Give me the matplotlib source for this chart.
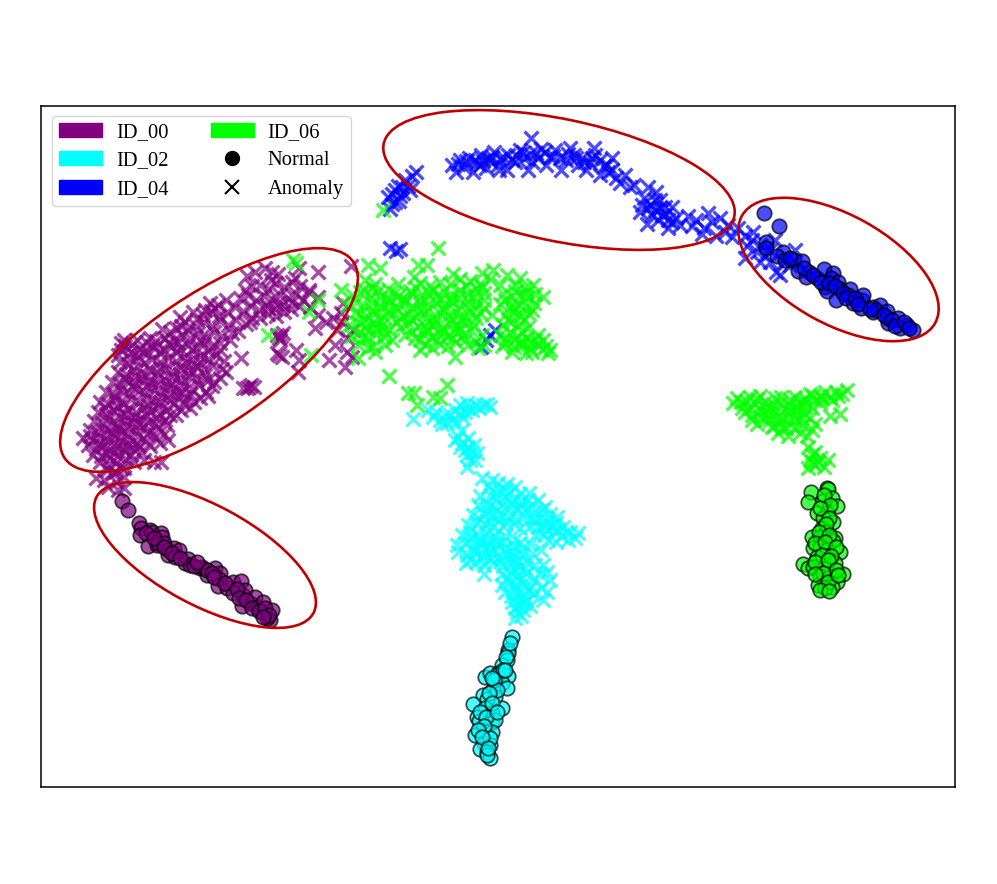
import matplotlib
matplotlib.use("Agg")
import matplotlib.pyplot as plt
from matplotlib.patches import Ellipse, Patch
from matplotlib.lines import Line2D

plt.rcParams['font.family'] = ['Liberation Serif', 'DejaVu Serif']

id00_anomaly = [
(118,490),(108,487),(124,488),(116,482),(96,478),(104,480),(124,477),(113,473),(107,470),(115,472),(121,468),
(100,462),(108,465),(116,463),(124,468),(93,455),(101,456),(110,458),(118,456),(126,459),(134,462),(144,460),(154,462),(161,462),
(88,445),(96,449),(103,446),(110,450),(117,447),(125,451),(133,448),(141,452),(150,446),(160,443),(168,440),
(83,438),(92,440),(100,437),(108,441),(115,438),(122,442),(130,439),(138,436),(146,441),(155,437),(164,434),
(90,430),(97,432),(105,428),(112,433),(120,429),(127,434),(135,430),(143,427),(151,431),(159,428),(167,425),
(94,421),(102,423),(109,419),(117,424),(124,420),(132,423),(140,419),(148,422),(156,418),(165,420),(170,415),
(98,412),(106,414),(113,410),(121,413),(128,409),(136,412),(143,408),(151,411),(158,407),(166,410),(174,404),(181,410),(190,408),(176,415),
(100,402),(108,404),(116,400),(124,403),(131,399),(139,402),(147,398),(155,401),(162,397),(170,400),(178,396),(186,399),(194,402),(200,398),(208,396),
(106,392),(114,394),(121,390),(129,393),(136,389),(144,392),(152,388),(160,391),(168,387),(176,390),(184,386),(192,389),(199,385),(212,386),(206,392),
(112,382),(120,384),(127,380),(135,383),(142,379),(150,382),(158,378),(166,381),(173,377),(181,380),(189,376),(197,379),(205,375),(214,382),(220,378),
(118,372),(126,374),(133,370),(141,373),(149,369),(157,372),(165,368),(172,371),(180,367),(188,370),(196,366),(204,369),(212,365),(222,369),(226,372),
(120,362),(128,364),(136,360),(144,363),(152,359),(160,362),(168,358),(176,361),(184,357),(192,360),(200,356),(208,359),(216,355),(224,361),
(121,350),(125,346),(131,352),(140,349),(148,352),(156,347),(164,350),(172,346),(180,349),(188,345),(196,348),(204,344),(212,347),(220,350),(241,358),
(121,343),(165,338),(174,340),(182,335),(190,338),(198,333),(206,337),(214,332),(222,336),(230,340),(220,343),
(162,329),(181,326),(188,330),(196,326),(204,322),(212,326),(220,321),(228,325),(236,320),(246,324),(238,331),(252,318),(232,333),
(180,317),(193,312),(203,315),(211,311),(219,316),(227,312),(235,307),(243,311),(251,306),(259,310),(267,305),(275,309),(283,305),(291,309),(299,306),(250,322),(260,318),(268,314),(276,316),(284,312),(292,302),
(210,303),(218,305),(226,300),(240,298),(248,295),(256,300),(264,296),(272,299),(280,295),(288,298),(296,294),(303,300),(268,308),(278,303),
(245,290),(252,286),(260,285),(268,289),(276,283),(284,287),(292,282),(300,286),(309,292),(318,297),(310,307),
(247,276),(255,272),(265,268),(272,272),(278,274),(271,280),(295,278),(299,268),(318,272),(351,266),(309,290),
(281,336),(279,338),(277,335),(283,333),(280,340),(279,355),(277,353),(282,357),(296,350),(298,372),(299,360),
(249,387),(251,385),(247,388),(254,387),(243,388),(326,322),(333,318),(341,313),(337,330),(347,338),(335,345),(329,360),(347,352),(352,357),(345,367),(342,322),(353,330),(343,303),(315,328),(318,315),
(118,355),(124,340),(132,345),(130,358),(138,356),(146,342),(150,338),(156,341),(160,353),(170,332),(176,328),(185,322),(197,319),(205,310),(215,308),(137,340),(143,352),(152,346),(168,343),(176,352),(192,350),(200,340),(208,351),(186,362),(178,343),
(105,408),(118,407),(125,414),(134,417),(145,414),(155,424),(160,414),(112,425),(127,426),(139,424),(99,444),(107,435),(121,436),(128,445),(136,443),(147,434),(106,453),(114,452),(122,448),(131,455),(139,446),(115,397),(132,386),(146,386),(158,384),(170,394),(182,392),(190,394),(172,384),(180,374),(193,372),(200,362),(160,368),(147,376),(135,376),(124,378),(208,380),(184,404),(160,402),(148,405),(118,428),(90,436),
]

id02_anomaly = [
(413,419),(428,410),(433,417),(440,420),(447,423),(450,415),(455,410),(460,405),(467,403),(472,410),(475,405),(483,405),(490,407),(487,404),(465,412),(445,415),(452,420),(460,413),(468,408),
(458,437),(462,443),(468,447),(472,452),(477,453),(467,455),(470,460),(467,467),(455,440),(465,450),(474,445),
(482,478),(492,480),(498,483),(507,484),(515,487),(488,487),(500,490),(510,492),(520,494),(529,493),(480,496),(490,495),(496,499),(505,497),(513,500),(522,501),(531,505),(538,500),(545,507),
(478,505),(486,504),(494,507),(502,505),(510,508),(518,510),(526,509),(534,512),(542,510),(550,514),(557,517),
(473,515),(483,513),(491,516),(499,514),(508,517),(516,519),(524,516),(532,519),(540,518),(548,521),(556,523),(563,527),(570,532),(578,533),
(468,525),(476,522),(485,524),(493,527),(503,526),(520,528),(530,526),(538,527),(546,529),(554,531),(561,536),(568,540),(575,538),
(462,535),(470,532),(478,535),(486,533),(494,536),(505,536),(515,539),(535,535),(548,540),(556,542),
(457,545),(465,543),(473,545),(481,543),(489,546),(497,544),(505,548),(513,546),(521,549),(530,544),(541,550),
(458,552),(467,555),(475,552),(483,556),(491,553),(499,557),(507,554),(515,558),(523,555),(532,553),
(466,563),(476,562),(484,565),(494,562),(503,566),(511,563),(519,567),(527,562),(535,565),(543,565),(547,572),
(484,574),(502,574),(510,572),(518,576),(526,573),(534,578),(540,574),(550,580),
(502,585),(509,582),(516,585),(523,583),(531,586),(541,588),(547,592),
(505,592),(511,596),(518,593),(525,596),(533,594),(543,600),
(512,602),(518,605),(524,603),(530,606),(517,612),(523,610),(515,618),(521,616),
(496,493),(505,490),(512,504),(520,505),(528,500),(497,510),(487,509),(480,520),(490,522),(498,520),(506,523),(514,524),(471,538),(480,540),(488,540),(497,540),(474,550),(484,549),(494,549),(503,542),(512,552),(520,543),(470,560),(480,558),(490,559),(500,561),(509,558),(517,562),(525,568),(515,570),(507,578),(520,580),(528,590),(514,590),(520,600),(526,600),(515,608),(535,521),(544,526),(552,526),(544,535),(558,530),(566,532),
(436,412),(442,424),(456,422),(463,418),(479,408),(461,431),(468,438),(460,447),(475,460),
]

id04_anomaly = [
(390,209),(395,202),(388,197),(400,196),(395,190),(403,193),(408,186),(412,176),(416,172),(405,180),(398,186),(392,194),(399,201),(410,190),
(452,165),(456,172),(460,160),(464,167),(469,158),(473,172),(477,163),(481,155),(486,168),(490,160),(494,152),(498,165),(503,157),(507,170),(512,160),(516,155),(520,150),(524,158),(528,170),(532,162),(531,138),(536,153),(541,149),(546,165),(550,157),(555,150),(561,170),(566,160),(570,148),(574,155),(578,165),(582,158),(586,170),(590,163),(595,155),(600,175),(604,166),(608,172),(612,170),(594,148),(616,178),(620,183),(625,175),(612,158),(634,185),(630,187),
(648,187),(644,198),(650,205),(656,192),(660,200),(665,207),(652,215),(640,212),(647,224),(658,220),(666,214),(672,207),(676,218),(680,225),(668,228),(655,210),(662,215),
(688,216),(696,220),(704,228),(712,222),(720,218),(725,232),(716,236),(708,213),(702,234),(692,226),(732,237),(728,225),(738,228),
(745,236),(753,232),(760,245),(770,250),(747,246),(757,252),(765,255),(775,240),(770,262),(780,275),(745,258),(790,265),(776,272),(784,262),(795,250),(760,262),(752,240),
(481,347),(490,335),(495,330),(486,340),(390,248),(400,249),(396,251),
(458,164),(466,161),(475,160),(483,161),(492,157),(500,159),(508,155),(515,162),(523,152),(530,154),(538,158),(545,152),(553,156),(560,158),(568,154),(576,158),(584,162),(592,158),(600,160),(607,165),(480,165),(488,158),(499,170),(392,204),(402,187),(648,208),(655,200),(660,208),(668,220),(642,205),(672,222),
]

id06_anomaly = [
(293,260),(296,263),(268,335),(311,355),(309,312),(318,300),(341,290),(383,210),
(438,248),(368,265),(380,268),(418,265),(427,265),(414,277),(453,274),(493,270),(482,273),(520,278),(507,275),(455,357),(358,358),(375,352),(389,376),(447,385),(408,393),(414,393),(433,397),(440,398),(417,405),(548,353),(543,297),(543,340),(532,352),
(365,280),(375,284),(388,289),(398,284),(410,291),(420,283),(430,286),(440,282),(450,284),(460,279),(470,281),(480,284),(490,279),(500,285),(515,285),(525,288),(533,285),
(352,295),(360,292),(370,296),(378,291),(386,298),(394,293),(402,299),(412,294),(420,298),(428,293),(436,296),(444,291),(452,295),(460,290),(468,294),(476,289),(484,293),(503,294),(512,297),(520,295),(528,297),(535,294),
(347,305),(356,302),(364,306),(372,303),(380,307),(388,304),(396,308),(404,304),(412,308),(420,304),(428,308),(436,303),(444,306),(452,302),(460,306),(468,301),(476,304),(484,300),(500,304),(510,307),(518,304),(526,306),(534,303),
(360,314),(368,317),(376,313),(384,317),(392,314),(400,318),(408,313),(416,317),(424,314),(432,318),(440,313),(448,316),(456,312),(464,316),(472,312),(480,313),(505,315),(513,312),(521,316),(529,314),
(349,325),(357,322),(365,327),(373,323),(381,326),(389,330),(400,327),(408,323),(418,326),(426,329),(434,325),(442,328),(450,323),(458,326),(466,322),(474,325),(503,325),(511,322),(519,325),(527,328),
(352,336),(360,332),(368,338),(376,334),(384,337),(405,335),(415,338),(423,334),(431,337),(439,333),(447,336),(455,332),(463,335),(471,330),(482,335),(500,335),(510,332),(518,336),(527,338),(535,340),
(358,345),(373,346),(385,345),(392,340),(425,345),(432,348),(440,344),(448,346),(456,342),(465,340),(478,348),(505,343),(514,347),(522,345),(530,348),(538,344),(546,346),(550,350),(492,315),(484,345),
(733,403),(737,398),(742,408),(746,401),(750,397),(755,404),(760,396),(765,402),(770,408),(775,398),(780,403),(785,410),(790,400),(795,397),(800,403),(805,398),(810,394),(815,400),(820,396),(825,392),(830,397),(836,392),(842,394),(847,390),(832,400),(820,403),
(745,412),(752,415),(760,410),(768,414),(775,412),(782,418),(790,411),(797,409),(805,407),(812,408),(830,416),(840,414),
(757,424),(765,420),(772,427),(780,423),(786,428),(795,420),(802,425),(810,418),(815,424),(778,433),(788,436),(800,433),(807,436),(812,430),
(808,447),(812,455),(810,460),(815,452),(820,458),(808,468),(815,465),(828,460),(824,467),
(364,290),(372,288),(380,298),(390,300),(398,296),(406,300),(416,288),(425,300),(433,290),(441,299),(450,300),(458,298),(466,286),(474,297),(482,287),(505,300),(515,291),(527,292),(356,312),(364,320),(372,310),(380,320),(388,311),(396,322),(404,316),(412,320),(420,310),(428,322),(436,320),(444,310),(452,319),(460,320),(468,308),(476,318),(484,308),(508,320),(516,308),(524,320),(532,310),(368,330),(376,328),(384,330),(412,332),(420,340),(428,330),(436,340),(444,332),(452,338),(460,330),(468,345),(476,342),(506,338),(514,340),(522,332),(530,342),(538,335),(542,350),(526,353),(520,342),(512,352),(502,346),(420,350),(362,338),(368,348),
(741,402),(749,408),(757,399),(765,408),(773,404),(781,397),(789,405),(797,404),(805,402),(813,396),(822,398),(838,396),(752,420),(760,416),(770,420),(778,416),(788,418),(796,415),(804,414),(774,426),(782,428),(794,428),(802,418),(812,462),(818,462),
]

id00_normal = [(122,501),(128,510),(139,523),(141,528),(140,535),(150,530),(152,532),(161,533),(162,537),(148,546),(157,545),(158,543),(164,543),(168,550),(168,555),(174,548),(179,550),(175,557),(185,563),(188,559),(190,565),(200,568),(202,567),(215,568),(207,575),(207,570),(220,573),(219,579),(218,586),(227,588),(233,582),(241,581),(233,593),(243,595),(245,590),(242,606),(250,603),(255,597),(257,607),(263,602),(262,612),(272,610),(270,620),(267,618),
(146,533),(154,538),(164,547),(172,553),(180,558),(194,566),(197,562),(212,573),(214,577),(225,583),(237,589),(239,598),(246,600),(252,608),(259,611),(265,608),(269,615),(263,617)]
id02_normal = [(512,637),(508,650),(508,653),(507,660),(502,665),(485,677),(490,673),(498,673),(501,674),(508,676),(497,675),(502,683),(507,688),(493,689),(483,695),(495,697),(487,699),(473,704),(502,708),(485,708),(492,713),(477,717),(479,721),(492,722),(495,720),(475,735),(486,732),(492,732),(484,743),(480,749),(490,745),(487,752),(490,758),(487,755),
(510,643),(506,657),(503,670),(494,680),(497,690),(489,693),(492,703),(480,712),(486,717),(497,712),(484,726),(478,730),(490,738),(482,737),(488,748),(492,678),(505,670)]
id04_normal = [(764,213),(779,226),(766,242),(766,248),(783,252),(777,256),(785,260),(794,260),(802,261),(798,271),(809,272),(806,277),(817,278),(824,269),(833,273),(831,278),(838,282),(825,287),(827,291),(840,289),(850,289),(848,295),(836,300),(853,303),(862,300),(863,295),(861,308),(873,312),(873,307),(880,305),(876,310),(887,311),(887,318),(888,323),(898,318),(900,328),(907,325),(913,330),
(790,258),(804,268),(813,275),(821,282),(829,283),(835,286),(843,293),(846,298),(855,298),(858,304),(870,309),(884,315),(892,320),(895,326),(904,322),(909,328)]
id06_normal = [(827,488),(828,489),(811,492),(808,502),(823,501),(832,498),(837,506),(817,513),(827,513),(823,518),(833,522),(822,528),(826,532),(812,537),(820,537),(835,538),(833,541),(813,548),(820,547),(827,550),(840,552),(817,557),(835,563),(803,564),(808,568),(813,567),(826,565),(824,568),(843,574),(820,576),(830,577),(837,582),(818,585),(832,587),(825,588),
(824,495),(830,505),(820,508),(829,518),(826,524),(819,532),(829,535),(815,543),(825,542),(836,547),(822,555),(831,556),(815,562),(828,560),(836,570),(823,573),(815,574),(828,582),(820,590),(829,591),(838,575)]

series_names = ['ID_00', 'ID_02', 'ID_04', 'ID_06']
series_colors = ['#800080', '#00ffff', '#0000ff', '#00ff00']
anomalies = [id00_anomaly, id02_anomaly, id04_anomaly, id06_anomaly]
normals = [id00_normal, id02_normal, id04_normal, id06_normal]
# centre x, centre y, full length, full height, angle
ellipses = [(209,360,349,130,-34.2),(559,180,358,122,11.7),(838.5,269.5,221,109,29),(205,555,246,100,28.2)]

fig = plt.figure(figsize=(9.97, 8.84), dpi=100)
ax = fig.add_axes([41/997, 1-787/884, 914/997, 681/884])
ax.set_xlim(41, 955)
ax.set_ylim(787, 106)
ax.set_xticks([]); ax.set_yticks([])
for s in ax.spines.values():
    s.set_linewidth(1.1)

for pts, c in zip(anomalies, series_colors):
    ax.scatter([p[0] for p in pts], [p[1] for p in pts], marker='x', s=100, c=c, alpha=0.7, linewidths=2.4)
for pts, c in zip(normals, series_colors):
    ax.scatter([p[0] for p in pts], [p[1] for p in pts], marker='o', s=108, c=c, alpha=0.7, edgecolors='black', linewidths=1.3)
for cx, cy, w, h, ang in ellipses:
    ax.add_patch(Ellipse((cx, cy), w, h, angle=ang, fill=False, edgecolor='#c00000', linewidth=1.9, zorder=5))

handles = [Patch(color=c, label=n) for c, n in zip(series_colors, series_names)]
handles += [Line2D([], [], ls='', marker='o', color='k', markersize=10, label='Normal'),
            Line2D([], [], ls='', marker='x', color='k', markersize=10, markeredgewidth=1.5, label='Anomaly')]
ax.legend(handles=handles, ncol=2, loc='upper left', fontsize=14.8, bbox_to_anchor=(0.012, 0.9855),
          borderaxespad=0, borderpad=0.33, handlelength=2.1, handletextpad=0.68, columnspacing=2.05, labelspacing=0.44)
fig.savefig('out.png', dpi=100)
